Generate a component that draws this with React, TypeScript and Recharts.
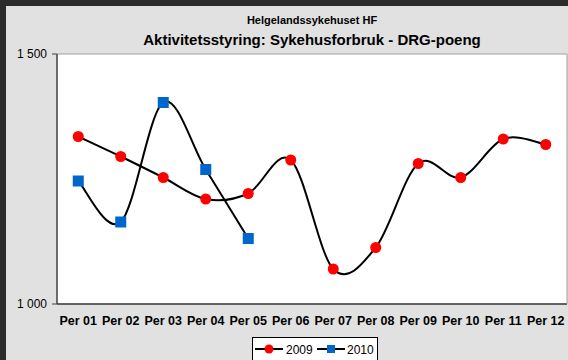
import React from 'react';
import { LineChart, Line, XAxis, YAxis, CartesianGrid } from 'recharts';

const periods = ['Per 01', 'Per 02', 'Per 03', 'Per 04', 'Per 05', 'Per 06', 'Per 07', 'Per 08', 'Per 09', 'Per 10', 'Per 11', 'Per 12'];
const values2009 = [1335, 1295, 1253, 1210, 1221, 1288, 1070, 1113, 1281, 1253, 1330, 1319];
const values2010 = [1246, 1164, 1403, 1269, 1131];
const yTicks = [1000, 1500];
const title1 = 'Helgelandssykehuset HF';
const title2 = 'Aktivitetsstyring: Sykehusforbruk - DRG-poeng';
const seriesNames = ['2009', '2010'];

const data = periods.map((p, i) => ({
  name: p,
  y2009: values2009[i],
  y2010: i < values2010.length ? values2010[i] : null,
}));

const FONT = '"Liberation Sans", Arial, sans-serif';

// Excel-like smoothed line (Catmull-Rom through points)
const smoothCurve: any = (context: any) => {
  let pts: number[][] = [];
  return {
    areaStart() {},
    areaEnd() {},
    lineStart() {
      pts = [];
    },
    lineEnd() {
      const n = pts.length;
      if (n === 0) return;
      context.moveTo(pts[0][0], pts[0][1]);
      for (let i = 0; i < n - 1; i++) {
        const p0 = pts[Math.max(i - 1, 0)];
        const p1 = pts[i];
        const p2 = pts[i + 1];
        const p3 = pts[Math.min(i + 2, n - 1)];
        const c1x = p1[0] + (p2[0] - p0[0]) / 6;
        const c1y = p1[1] + (p2[1] - p0[1]) / 6;
        const c2x = p2[0] - (p3[0] - p1[0]) / 6;
        const c2y = p2[1] - (p3[1] - p1[1]) / 6;
        context.bezierCurveTo(c1x, c1y, c2x, c2y, p2[0], p2[1]);
      }
    },
    point(x: number, y: number) {
      pts.push([+x, +y]);
    },
  };
};

const RedDot = (props: any) => {
  const { cx, cy, index } = props;
  if (cx == null || cy == null || props.value == null) return <g key={index} />;
  return <circle key={index} cx={cx} cy={cy} r={5.5} fill="#FF0000" />;
};

const BlueDot = (props: any) => {
  const { cx, cy, index } = props;
  if (cx == null || cy == null || props.value == null) return <g key={index} />;
  return <rect key={index} x={cx - 5.5} y={cy - 5.5} width={11} height={11} fill="#0066CC" />;
};

const fmt = (v: number) => String(v).replace(/\B(?=(\d{3})+(?!\d))/g, ' ');

export default function App() {
  return (
    <div style={{ position: 'fixed', left: 0, top: 0, width: 568, height: 360, background: '#2b2b2b', overflow: 'hidden', fontFamily: FONT }}>
      <div style={{ position: 'absolute', left: 6, top: 6, width: 562, height: 354, background: '#e1e1e1' }} />
      <div style={{ position: 'absolute', left: 57, width: 510, top: 13, textAlign: 'center', fontSize: 11, fontWeight: 'bold', color: '#000', lineHeight: '14px' }}>
        {title1}
      </div>
      <div style={{ position: 'absolute', left: 57, width: 510, top: 31, textAlign: 'center', fontSize: 15, fontWeight: 'bold', color: '#000', lineHeight: '18px' }}>
        {title2}
      </div>
      <div style={{ position: 'absolute', left: 0, top: 0 }}>
        <LineChart width={568} height={360} data={data} margin={{ top: 54, right: 0, bottom: 26, left: 0 }}>
          <CartesianGrid fill="#ffffff" vertical={false} horizontal={true} stroke="#a0a0a0" />
          <XAxis
            dataKey="name"
            scale="band"
            height={30}
            tickLine={false}
            axisLine={{ stroke: '#404040', strokeWidth: 1.5 }}
            tick={{ fontSize: 12.5, fontWeight: 'bold', fill: '#000', fontFamily: FONT }}
            tickMargin={6}
            interval={0}
          />
          <YAxis
            domain={[1000, 1500]}
            ticks={yTicks}
            width={57}
            tickFormatter={fmt}
            tickSize={5}
            tickMargin={5}
            tickLine={{ stroke: '#404040' }}
            axisLine={{ stroke: '#404040', strokeWidth: 1.5 }}
            tick={{ fontSize: 12, fill: '#000', fontFamily: FONT }}
          />
          <YAxis yAxisId="r" orientation="right" width={1} tick={false} tickLine={false} axisLine={{ stroke: '#a0a0a0' }} domain={[1000, 1500]} />
          <Line dataKey="y2009" name={seriesNames[0]} type={smoothCurve} stroke="#000" strokeWidth={2} dot={<RedDot />} activeDot={false} isAnimationActive={false} />
          <Line dataKey="y2010" name={seriesNames[1]} type={smoothCurve} stroke="#000" strokeWidth={2} dot={<BlueDot />} activeDot={false} isAnimationActive={false} connectNulls={false} />
        </LineChart>
      </div>
      <div style={{ position: 'absolute', left: 252, top: 337, width: 126, height: 30, background: '#fff', border: '1px solid #000', boxSizing: 'border-box' }}>
        <svg width={124} height={28} style={{ position: 'absolute', left: 0, top: 0 }}>
          <line x1={2} x2={30} y1={11} y2={11} stroke="#000" strokeWidth={2} />
          <circle cx={16} cy={11} r={4.5} fill="#FF0000" />
          <text x={33} y={15.5} fontSize={12} fontFamily={FONT} fill="#000">{seriesNames[0]}</text>
          <line x1={64} x2={92} y1={11} y2={11} stroke="#000" strokeWidth={2} />
          <rect x={74} y={7} width={8} height={8} fill="#0066CC" />
          <text x={94} y={15.5} fontSize={12} fontFamily={FONT} fill="#000">{seriesNames[1]}</text>
        </svg>
      </div>
    </div>
  );
}
